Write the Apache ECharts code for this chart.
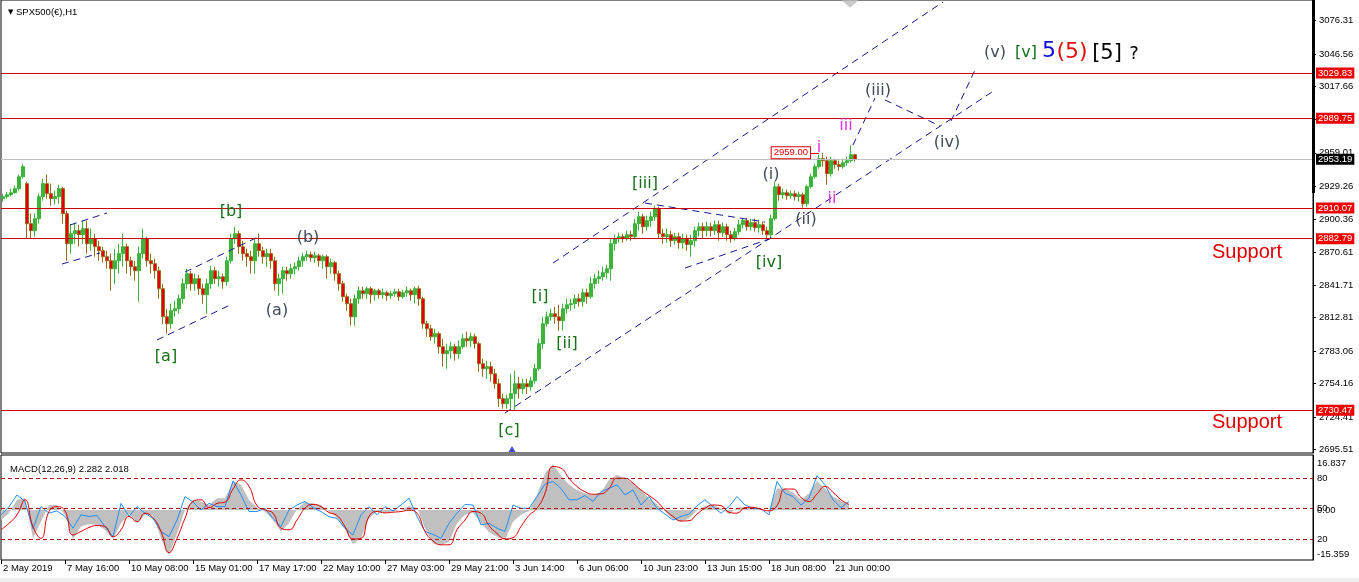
<!DOCTYPE html>
<html><head><meta charset="utf-8">
<script src="https://cdn.jsdelivr.net/npm/echarts@6/dist/echarts.min.js"></script>
<style>html,body{margin:0;padding:0;background:#fff;}#c{width:1359px;height:582px;}</style>
</head><body><div id="c"></div>
<script>
// ---------- data ----------
const symbolTitle = 'SPX500(€),H1';
const timeLabels = ['2 May 2019','7 May 16:00','10 May 08:00','15 May 01:00','17 May 17:00','22 May 10:00','27 May 03:00','29 May 21:00','3 Jun 14:00','6 Jun 06:00','10 Jun 23:00','13 Jun 15:00','18 Jun 08:00','21 Jun 00:00'];
const priceTicks = [3076.31,3046.56,3017.66,2988.76,2959.01,2929.26,2900.36,2870.61,2841.71,2812.81,2783.06,2754.16,2724.41,2695.51];
const priceLevels = [3029.83,2989.75,2910.07,2882.79,2730.47];
const lastPrice = 2953.19;
const markedHigh = 2959.00;
const macdTitle = 'MACD(12,26,9) 2.282 2.018';
const macdMax = 16.837, macdMin = -15.359;
const oscLevels = [80,50,20];

// [open, close, low, high]
const ohlc = [
[2918.3,2920.1,2915.6,2922.7],[2920.1,2921.8,2918.3,2924.5],[2921.8,2923.6,2920.1,2927.2],[2923.6,2927.2,2922.7,2929.8],
[2927.2,2937.8,2925.4,2939.6],[2937.8,2946.7,2936.0,2949.3],[2931.6,2896.1,2882.8,2933.4],[2896.1,2889.9,2882.8,2905.0],
[2889.9,2900.5,2884.6,2905.0],[2900.5,2920.1,2896.1,2922.7],[2920.1,2931.6,2916.5,2936.0],[2931.6,2922.7,2918.3,2939.6],
[2922.7,2918.3,2912.1,2931.6],[2918.3,2920.1,2913.0,2925.4],[2920.1,2927.2,2913.8,2930.7],[2927.2,2905.0,2896.1,2928.9],
[2905.0,2878.3,2863.2,2907.6],[2878.3,2887.2,2869.5,2896.1],[2887.2,2889.9,2878.3,2897.0],[2889.9,2886.3,2875.7,2895.2],
[2886.3,2891.7,2878.3,2898.8],[2891.7,2878.3,2869.5,2898.8],[2878.3,2882.8,2872.1,2891.7],[2882.8,2875.7,2866.8,2887.2],
[2875.7,2872.1,2863.2,2881.0],[2872.1,2866.8,2861.5,2875.7],[2866.8,2863.2,2856.1,2872.1],[2863.2,2856.1,2836.6,2869.5],
[2856.1,2863.2,2842.8,2873.9],[2863.2,2869.5,2851.7,2878.3],[2869.5,2875.7,2857.9,2887.2],[2875.7,2863.2,2851.7,2878.3],
[2863.2,2857.9,2849.9,2866.8],[2857.9,2854.4,2845.5,2863.2],[2854.4,2869.5,2826.9,2875.7],[2869.5,2882.8,2865.0,2891.7],
[2882.8,2863.2,2857.9,2884.6],[2863.2,2860.6,2851.7,2869.5],[2860.6,2854.4,2847.3,2865.0],[2854.4,2838.4,2829.5,2857.9],
[2838.4,2813.5,2807.3,2842.8],[2813.5,2807.3,2798.5,2820.6],[2807.3,2818.9,2802.9,2825.1],[2818.9,2820.6,2813.5,2827.7],
[2820.6,2829.5,2816.2,2833.1],[2829.5,2842.8,2825.1,2847.3],[2842.8,2851.7,2838.4,2856.1],[2851.7,2842.8,2836.6,2854.4],
[2842.8,2847.3,2836.6,2851.7],[2847.3,2838.4,2833.1,2850.8],[2838.4,2833.1,2825.1,2842.8],[2833.1,2842.8,2816.2,2847.3],
[2842.8,2854.4,2838.4,2858.8],[2854.4,2847.3,2842.8,2857.9],[2847.3,2849.0,2840.2,2854.4],[2849.0,2844.6,2838.4,2851.7],
[2844.6,2863.2,2841.1,2866.8],[2863.2,2882.8,2860.6,2887.2],[2882.8,2887.2,2878.3,2893.4],[2887.2,2875.7,2869.5,2889.9],
[2875.7,2869.5,2863.2,2881.0],[2869.5,2866.8,2857.9,2873.9],[2866.8,2863.2,2851.7,2872.1],[2863.2,2878.3,2851.7,2882.8],
[2878.3,2872.1,2866.8,2887.2],[2872.1,2866.8,2860.6,2875.7],[2866.8,2869.5,2857.9,2873.9],[2869.5,2863.2,2856.1,2873.9],
[2863.2,2842.8,2836.6,2866.8],[2842.8,2847.3,2832.2,2851.7],[2847.3,2854.4,2834.0,2857.9],[2854.4,2851.7,2845.5,2857.9],
[2851.7,2856.1,2847.3,2860.6],[2856.1,2857.9,2850.8,2861.5],[2857.9,2863.2,2854.4,2866.8],[2863.2,2866.8,2857.9,2870.3],
[2866.8,2868.6,2863.2,2872.1],[2868.6,2865.9,2862.4,2871.2],[2865.9,2867.7,2861.5,2871.2],[2867.7,2863.2,2857.9,2869.5],
[2863.2,2866.8,2856.1,2868.6],[2866.8,2857.9,2847.3,2868.6],[2857.9,2861.5,2851.7,2865.0],[2861.5,2851.7,2845.5,2863.2],
[2851.7,2842.8,2836.6,2854.4],[2842.8,2831.3,2826.9,2845.5],[2831.3,2825.1,2818.9,2834.0],[2825.1,2813.5,2805.6,2829.5],
[2813.5,2829.5,2805.6,2833.1],[2829.5,2836.6,2825.1,2840.2],[2836.6,2834.0,2829.5,2840.2],[2834.0,2838.4,2829.5,2840.2],
[2838.4,2833.1,2825.1,2840.2],[2833.1,2836.6,2827.7,2838.4],[2836.6,2833.1,2829.5,2838.4],[2833.1,2834.8,2829.5,2838.4],
[2834.8,2832.2,2827.7,2836.6],[2832.2,2834.0,2829.5,2836.6],[2834.0,2835.7,2831.3,2838.4],[2835.7,2831.3,2827.7,2838.4],
[2831.3,2834.8,2829.5,2837.5],[2834.8,2836.6,2831.3,2840.2],[2836.6,2833.1,2827.7,2838.4],[2833.1,2838.4,2825.1,2840.2],
[2838.4,2829.5,2823.3,2841.1],[2829.5,2807.3,2802.9,2831.3],[2807.3,2802.9,2795.8,2810.0],[2802.9,2795.8,2792.2,2806.4],
[2795.8,2798.5,2789.6,2802.9],[2798.5,2786.9,2780.7,2800.2],[2786.9,2780.7,2769.2,2794.0],[2780.7,2783.4,2767.4,2789.6],
[2783.4,2786.9,2776.3,2791.3],[2786.9,2780.7,2774.5,2789.6],[2780.7,2786.9,2776.3,2792.2],[2786.9,2794.0,2785.1,2798.5],
[2794.0,2792.2,2786.9,2800.2],[2792.2,2795.8,2786.9,2799.3],[2795.8,2789.6,2785.1,2798.5],[2789.6,2771.8,2764.7,2791.3],
[2771.8,2767.4,2760.3,2776.3],[2767.4,2769.2,2758.5,2774.5],[2769.2,2762.9,2755.9,2773.6],[2762.9,2754.1,2749.6,2767.4],
[2754.1,2740.8,2733.7,2758.5],[2740.8,2736.3,2731.9,2745.2],[2736.3,2740.8,2731.9,2744.3],[2740.8,2745.2,2731.9,2762.9],
[2745.2,2754.1,2730.1,2765.6],[2754.1,2749.6,2740.8,2760.3],[2749.6,2754.1,2745.2,2758.5],[2754.1,2751.4,2745.2,2758.5],
[2751.4,2756.7,2747.9,2760.3],[2756.7,2767.4,2754.1,2771.8],[2767.4,2789.6,2765.6,2794.0],[2789.6,2807.3,2785.1,2813.5],
[2807.3,2813.5,2804.7,2818.0],[2813.5,2816.2,2810.0,2820.6],[2816.2,2813.5,2807.3,2822.4],[2813.5,2810.0,2801.1,2824.2],
[2810.0,2820.6,2801.1,2825.1],[2820.6,2824.2,2816.2,2829.5],[2824.2,2825.1,2818.9,2829.5],[2825.1,2829.5,2820.6,2833.1],
[2829.5,2826.9,2822.4,2834.0],[2826.9,2834.8,2822.4,2838.4],[2834.8,2831.3,2825.1,2838.4],[2831.3,2842.8,2829.5,2849.0],
[2842.8,2847.3,2838.4,2851.7],[2847.3,2849.0,2842.8,2854.4],[2849.0,2852.6,2845.5,2857.9],[2852.6,2856.1,2847.3,2859.7],
[2856.1,2878.3,2845.5,2882.8],[2878.3,2882.8,2872.1,2886.3],[2882.8,2884.6,2879.2,2888.1],[2884.6,2882.8,2879.2,2887.2],
[2882.8,2886.3,2881.0,2889.9],[2886.3,2884.6,2881.0,2889.9],[2884.6,2896.1,2882.8,2900.5],[2896.1,2902.3,2889.9,2906.7],
[2902.3,2893.4,2887.2,2905.0],[2893.4,2898.8,2889.9,2903.2],[2898.8,2902.3,2893.4,2906.7],[2902.3,2909.4,2898.8,2912.1],
[2909.4,2887.2,2882.8,2911.2],[2887.2,2884.6,2878.3,2891.7],[2884.6,2886.3,2879.2,2891.7],[2886.3,2881.0,2875.7,2889.9],
[2881.0,2884.6,2877.5,2888.1],[2884.6,2879.2,2873.9,2888.1],[2879.2,2882.8,2873.9,2887.2],[2882.8,2877.5,2872.1,2886.3],
[2877.5,2881.0,2866.8,2886.3],[2881.0,2889.9,2875.7,2893.4],[2889.9,2893.4,2884.6,2897.0],[2893.4,2889.9,2882.8,2897.0],
[2889.9,2893.4,2884.6,2897.9],[2893.4,2889.9,2884.6,2897.0],[2889.9,2895.2,2886.3,2898.8],[2895.2,2888.1,2881.0,2898.8],
[2888.1,2893.4,2884.6,2897.0],[2893.4,2886.3,2881.0,2896.1],[2886.3,2882.8,2879.2,2889.9],[2882.8,2889.0,2881.0,2892.5],
[2889.0,2895.2,2886.3,2899.6],[2895.2,2898.8,2891.7,2900.5],[2898.8,2893.4,2889.9,2901.4],[2893.4,2897.0,2889.9,2900.5],
[2897.0,2892.5,2889.0,2900.5],[2892.5,2895.2,2888.1,2899.6],[2895.2,2889.9,2886.3,2897.9],[2889.9,2886.3,2882.8,2893.4],
[2886.3,2900.5,2882.8,2904.1],[2900.5,2928.9,2898.8,2933.4],[2928.9,2921.8,2916.5,2931.6],[2921.8,2923.6,2918.3,2927.2],
[2923.6,2920.9,2917.4,2926.3],[2920.9,2922.7,2918.3,2925.4],[2922.7,2920.1,2916.5,2925.4],[2920.1,2921.8,2915.6,2924.5],
[2921.8,2913.8,2910.3,2923.6],[2913.8,2928.9,2911.2,2930.7],[2928.9,2937.8,2927.2,2940.5],[2937.8,2946.7,2936.0,2949.3],
[2946.7,2953.8,2944.9,2957.3],[2953.8,2952.0,2946.7,2959.0],[2952.0,2940.5,2930.7,2955.6],[2940.5,2952.0,2937.8,2955.6],
[2952.0,2948.5,2944.9,2953.8],[2948.5,2946.7,2943.1,2952.0],[2946.7,2950.2,2944.9,2953.8],[2950.2,2952.0,2947.6,2955.6],
[2952.0,2957.3,2950.2,2965.3],[2957.3,2953.2,2951.1,2958.2]
];

// MACD panel (one value every 2 candles)
const macdMain = [-3.1,-1.0,3.1,3.6,-8.7,-3.6,1.5,1.5,-1.5,-8.9,
 -5.1,-4.4,-4.6,-6.1,-8.9,-4.1,-1.2,-4.1,-1.5,-1.7,
 -8.7,-14.0,-7.2,0,3.1,2.6,1.5,3.6,3.6,8.7,
 7.7,3.1,0.7,-0.5,-3.1,-6.6,-4.1,0.3,2.4,2.0,
 1.5,-0.5,-2.4,-6.1,-10.5,-8.7,-2.6,-0.5,-0.8,-0.5,
 0,1.2,0.7,-5.6,-10.4,-10.7,-9.9,-4.1,-1.5,-0.8,
 -4.1,-6.8,-8.2,-9.2,-3.6,-1.5,-0.3,4.6,11.2,14.0,
 10.5,7.7,6.1,5.1,4.6,5.4,9.2,10.7,9.7,8.2,
 6.1,3.4,1.7,-0.5,-2.9,-3.6,-2.6,0,1.2,1.5,
 0.5,-1.3,0.7,1.0,0.5,0,0,6.6,6.6,5.4,
 3.1,5.1,8.9,6.6,4.1,2.8,1.7];
const macdSignal = [-6.1,-4.1,-1.5,3.1,-5.1,-8.7,-0.5,1.0,-0.3,-7.7,
 -6.6,-5.4,-4.8,-5.1,-8.2,-6.1,-2.0,-3.6,-1.0,-2.4,
 -6.6,-13.1,-8.7,-2.6,2.6,3.1,0.7,2.0,2.4,6.4,
 9.2,7.2,1.3,0,-1.0,-5.6,-6.1,-3.1,0.5,1.7,
 1.0,-0.8,-1.7,-5.1,-8.9,-8.7,-2.0,-0.5,-0.9,-0.7,
 -0.5,-0.1,-1.0,-6.6,-9.5,-10.7,-10.7,-6.1,-3.1,-0.5,
 -1.0,-4.8,-7.2,-8.9,-8.5,-5.1,-1.7,0.5,5.1,13.3,
 12.8,9.7,7.2,5.6,4.8,4.9,6.6,9.7,9.7,8.2,
 6.1,4.4,2.6,0,-2.0,-3.4,-3.3,-1.3,0.5,1.5,
 1.3,-0.7,-1.0,0.7,0.8,0.2,-0.3,1.3,6.4,6.4,
 3.8,2.6,4.9,7.2,5.4,3.1,1.7];
const macdBlue = [-1.5,1.0,4.6,2.6,-5.8,1.0,-1.0,-0.3,-2.0,-5.6,
 -1.5,-2.0,-1.7,-5.1,-8.2,2.0,-2.0,1.0,-1.0,-2.6,
 -6.6,-8.2,-3.1,4.1,2.4,0,2.0,1.0,1.0,8.9,
 4.6,-0.5,-0.5,0.5,-2.6,-5.1,0,1.5,2.6,0.7,
 -0.5,-2.1,-2.6,-5.6,-7.7,-1.5,1.0,-1.5,1.0,-0.3,
 1.5,3.6,-2.0,-6.6,-7.5,-8.7,-4.1,-1.0,1.7,1.5,
 -4.6,-4.1,-5.6,-6.6,1.5,0.5,0.5,4.1,7.9,8.7,
 6.6,3.1,3.1,4.4,2.6,5.6,6.6,7.7,4.6,6.1,
 1.5,4.1,0.5,-1.3,-3.1,-2.0,-1.3,1.3,3.1,1.0,
 -1.0,1.0,4.1,1.5,0.5,0.3,-1.5,8.7,5.1,4.1,
 1.5,3.6,10.5,7.7,3.1,0.7,2.6];

// annotations: [text, bar position, price, kind]
const waveLabels = [
 ['[a]',40.75,2777.8,'g'],['[b]',57,2906.4,'g'],['(a)',68.5,2818.6,'s'],['(b)',76.25,2883.4,'s'],
 ['[c]',126.5,2712.1,'g'],['[i]',134.25,2831.0,'g'],['[ii]',141,2789.3,'g'],['[iii]',160.5,2931.3,'g'],
 ['[iv]',191.5,2861.2,'g'],['(i)',192,2939.3,'s'],['(ii)',200.75,2899.3,'s'],['(iii)',218.75,3013.8,'s'],
 ['(iv)',236,2967.7,'s'],['(v)',248,3047.6,'s'],['[v]',255.75,3047.6,'g'],['5',261.5,3049.3,'b5'],
 ['(5)',267.25,3048.4,'r5'],['[5]',276,3046.7,'k5'],['?',282.75,3046.7,'q'],
 ['i',204,2963.2,'m'],['ii',207.25,2918.0,'m'],['iii',210.75,2982.8,'m'],
 ['Support',311,2870.1,'sup'],['Support',311,2720.1,'sup']
];
// dashed trend / channel lines: [[bar, price], [bar, price]]
const channelLines = [
 [[137.5,2861.2],[235,3092.8]],
 [[125.5,2728.1],[248,3014.7]],
 [[160.5,2914.4],[190.5,2897.6]],
 [[170.5,2856.7],[192.25,2883.4]],
 [[212.5,2965.9],[218,3007.6]],
 [[220.5,3005.9],[234.25,2982.8]],
 [[237,2987.2],[243,3032.5]],
 [[16.75,2894.9],[26,2905.6]],
 [[14.75,2860.3],[24.25,2870.1]],
 [[45.5,2853.2],[63.75,2884.3]],
 [[38.5,2792.9],[56.75,2823.9]]
];
const markedHighSpan = [201.75, 204];
const arrowMark = [127.25, 2696.1];
const topMark = [211.75, 3094.0];

// ---------- chart ----------
const N = 328, M = 165;
const cats = Array.from({length: N}, (_, i) => String(i));
const macdCats = Array.from({length: M}, (_, i) => String(i));
const F = 'Liberation Sans';
const SF = 9.5;
const showTime = (i) => i % 8 === 0 && (i / 8) < timeLabels.length;
const kindStyle = {
 g: {color:'#16701a', fontSize:16, fontFamily:'DejaVu Sans'},
 s: {color:'#3f4c58', fontSize:16, fontFamily:'DejaVu Sans'},
 m: {color:'#e030e0', fontSize:16, fontFamily:'DejaVu Sans'},
 b5: {color:'#0c0cd8', fontSize:22, fontFamily:'DejaVu Sans'},
 r5: {color:'#e01010', fontSize:22, fontFamily:'DejaVu Sans'},
 k5: {color:'#000', fontSize:21, fontFamily:'DejaVu Sans'},
 q: {color:'#000', fontSize:18, fontFamily:'DejaVu Sans'},
 sup: {color:'#e00000', fontSize:20, fontFamily:'Liberation Sans'}
};

const levelLines = priceLevels.map(v => ({
 yAxis: v,
 lineStyle: {color:'#d00000', width:1, type:'solid'},
 label: {show:true, position:'end', distance:3, formatter: () => v.toFixed(2), color:'#fff', backgroundColor:'#f00000', padding:[1,2,0,2], fontSize:SF, fontFamily:F}
}));
levelLines.push({
 yAxis: lastPrice,
 lineStyle: {color:'#c0c0c0', width:1, type:'solid'},
 label: {show:true, position:'end', distance:3, formatter: () => lastPrice.toFixed(2), color:'#fff', backgroundColor:'#000', padding:[1,2,0,2], fontSize:SF, fontFamily:F}
});

const macdLabelVals = [macdMax - 8*(macdMax-macdMin)/105, 0, macdMin + 6*(macdMax-macdMin)/105];

const chart = echarts.init(document.getElementById('c'));
chart.setOption({
 animation: false,
 backgroundColor: '#fff',
 title: [
  {text:'{a|▼} ' + symbolTitle, left:3, top:2, textStyle:{fontSize:SF, fontWeight:'normal', color:'#000', fontFamily:F, rich:{a:{fontSize:7, fontFamily:'DejaVu Sans', color:'#000'}}}},
  {text: macdTitle, left:5, top:459, textStyle:{fontSize:SF, fontWeight:'normal', color:'#000', fontFamily:F}}
 ],
 grid: [
  {left:1, right:46, top:0, height:453, show:true, borderColor:'#000', borderWidth:1, backgroundColor:'#fff'},
  {left:1, right:46, top:455, height:105, show:true, borderColor:'#000', borderWidth:1, backgroundColor:'#fff'}
 ],
 xAxis: [
  {type:'category', gridIndex:0, data:cats, boundaryGap:true, axisLine:{show:false, onZero:false}, axisTick:{show:false}, axisLabel:{show:false}, splitLine:{show:false}},
  {type:'category', gridIndex:1, data:macdCats, boundaryGap:false, position:'bottom', axisLine:{show:false, onZero:false},
   axisTick:{show:true, length:4, interval:(i)=>showTime(i), lineStyle:{color:'#000'}},
   axisLabel:{show:true, interval:(i)=>showTime(i), formatter:(v,i)=> timeLabels[i/8] || '', align:'left', margin:3, color:'#000', fontSize:SF, fontFamily:F, padding:[0,0,0,2]},
   splitLine:{show:false}},
  {type:'value', gridIndex:0, min:-0.5, max:N-0.5, show:false, axisLine:{onZero:false}}
 ],
 yAxis: [
  {type:'value', gridIndex:0, position:'right', min:2692.6, max:3094.6,
   axisLine:{show:true, onZero:false, lineStyle:{color:'#000', width:1}},
   axisTick:{show:true, length:3, customValues:priceTicks, lineStyle:{color:'#000'}},
   axisLabel:{customValues:priceTicks, formatter:(v)=>v.toFixed(2), margin:6, color:'#000', fontSize:SF, fontFamily:F},
   splitLine:{show:false}},
  {type:'value', gridIndex:1, position:'right', min:macdMin, max:macdMax,
   axisLine:{show:true, onZero:false, lineStyle:{color:'#000'}}, axisTick:{show:false},
   axisLabel:{customValues:macdLabelVals, formatter:(v)=> v > 5 ? macdMax.toFixed(3) : (v < -5 ? macdMin.toFixed(3) : '0.00'), margin:4, color:'#000', fontSize:SF, fontFamily:F},
   splitLine:{show:false}},
  {type:'value', gridIndex:1, position:'right', min:0, max:102.3,
   axisLine:{show:false, onZero:false}, axisTick:{show:false},
   axisLabel:{customValues:oscLevels, formatter:(v)=>String(v), margin:4, color:'#000', fontSize:SF, fontFamily:F},
   splitLine:{show:false}}
 ],
 series: [
  {type:'candlestick', xAxisIndex:0, yAxisIndex:0, data:ohlc, barWidth:3,
   itemStyle:{color:'#3cb43c', color0:'#e00000', borderColor:'#3cb43c', borderColor0:'#9a6a1c', borderWidth:1},
   markLine:{silent:true, symbol:['none','none'], animation:false, data:levelLines}, z:2},
  {type:'lines', coordinateSystem:'cartesian2d', xAxisIndex:2, yAxisIndex:0, silent:true, polyline:false,
   data: channelLines.map(c => ({coords:c})),
   lineStyle:{color:'#16168c', width:1, type:[7,5], opacity:1}, z:4},
  {type:'scatter', xAxisIndex:2, yAxisIndex:0, silent:true, symbol:'circle', symbolSize:2, itemStyle:{color:'#fff', opacity:1},
   data: waveLabels.map(w => ({name:w[0], value:[w[1], w[2]], label:Object.assign({show:true, position:'inside', formatter:'{b}', opacity:1, textBorderWidth:0, fontWeight:'normal'}, kindStyle[w[3]])})),
   markLine:{silent:true, symbol:['none','none'], animation:false,
    data:[[{coord:[markedHighSpan[0], markedHigh]},{coord:[markedHighSpan[1], markedHigh]}]],
    lineStyle:{color:'#e00000', width:1, type:'solid'},
    label:{show:true, position:'start', distance:0, formatter:()=>markedHigh.toFixed(2), color:'#e00000', backgroundColor:'#fff', borderColor:'#e00000', borderWidth:1, padding:[1,2,0,2], fontSize:SF, fontFamily:F}},
   z:6},
  {type:'scatter', xAxisIndex:2, yAxisIndex:0, silent:true,
   data:[{value:arrowMark, symbol:'triangle', symbolSize:[7,6], itemStyle:{color:'#1a1ad0'}},
         {value:topMark, symbol:'diamond', symbolSize:[16,14], itemStyle:{color:'#bdbdbd'}}], z:5},
  {type:'line', xAxisIndex:1, yAxisIndex:1, data:macdMain, symbol:'none', silent:true,
   lineStyle:{width:0, opacity:0}, areaStyle:{color:'#c0c0c0', opacity:1}, z:1},
  {type:'line', xAxisIndex:1, yAxisIndex:2, data:[], symbol:'none', silent:true,
   markLine:{silent:true, symbol:['none','none'], animation:false, label:{show:false},
    lineStyle:{color:'#b01010', width:1, type:[4,3]}, data: oscLevels.map(v => ({yAxis:v}))}, z:2},
  {type:'line', xAxisIndex:1, yAxisIndex:1, data:macdBlue, symbol:'none', silent:true,
   lineStyle:{color:'#1e8fff', width:1}, z:3},
  {type:'line', xAxisIndex:1, yAxisIndex:1, data:macdSignal, symbol:'none', silent:true, smooth:0.5,
   lineStyle:{color:'#e00000', width:1}, z:4}
 ],
 graphic: [
  {type:'rect', shape:{x:1312, y:0, width:3, height:193}, style:{fill:'#000'}, z:100, silent:true},
  {type:'rect', shape:{x:0, y:578, width:1359, height:4}, style:{fill:'#efefef'}, z:100, silent:true}
 ]
});
</script>
</body></html>
